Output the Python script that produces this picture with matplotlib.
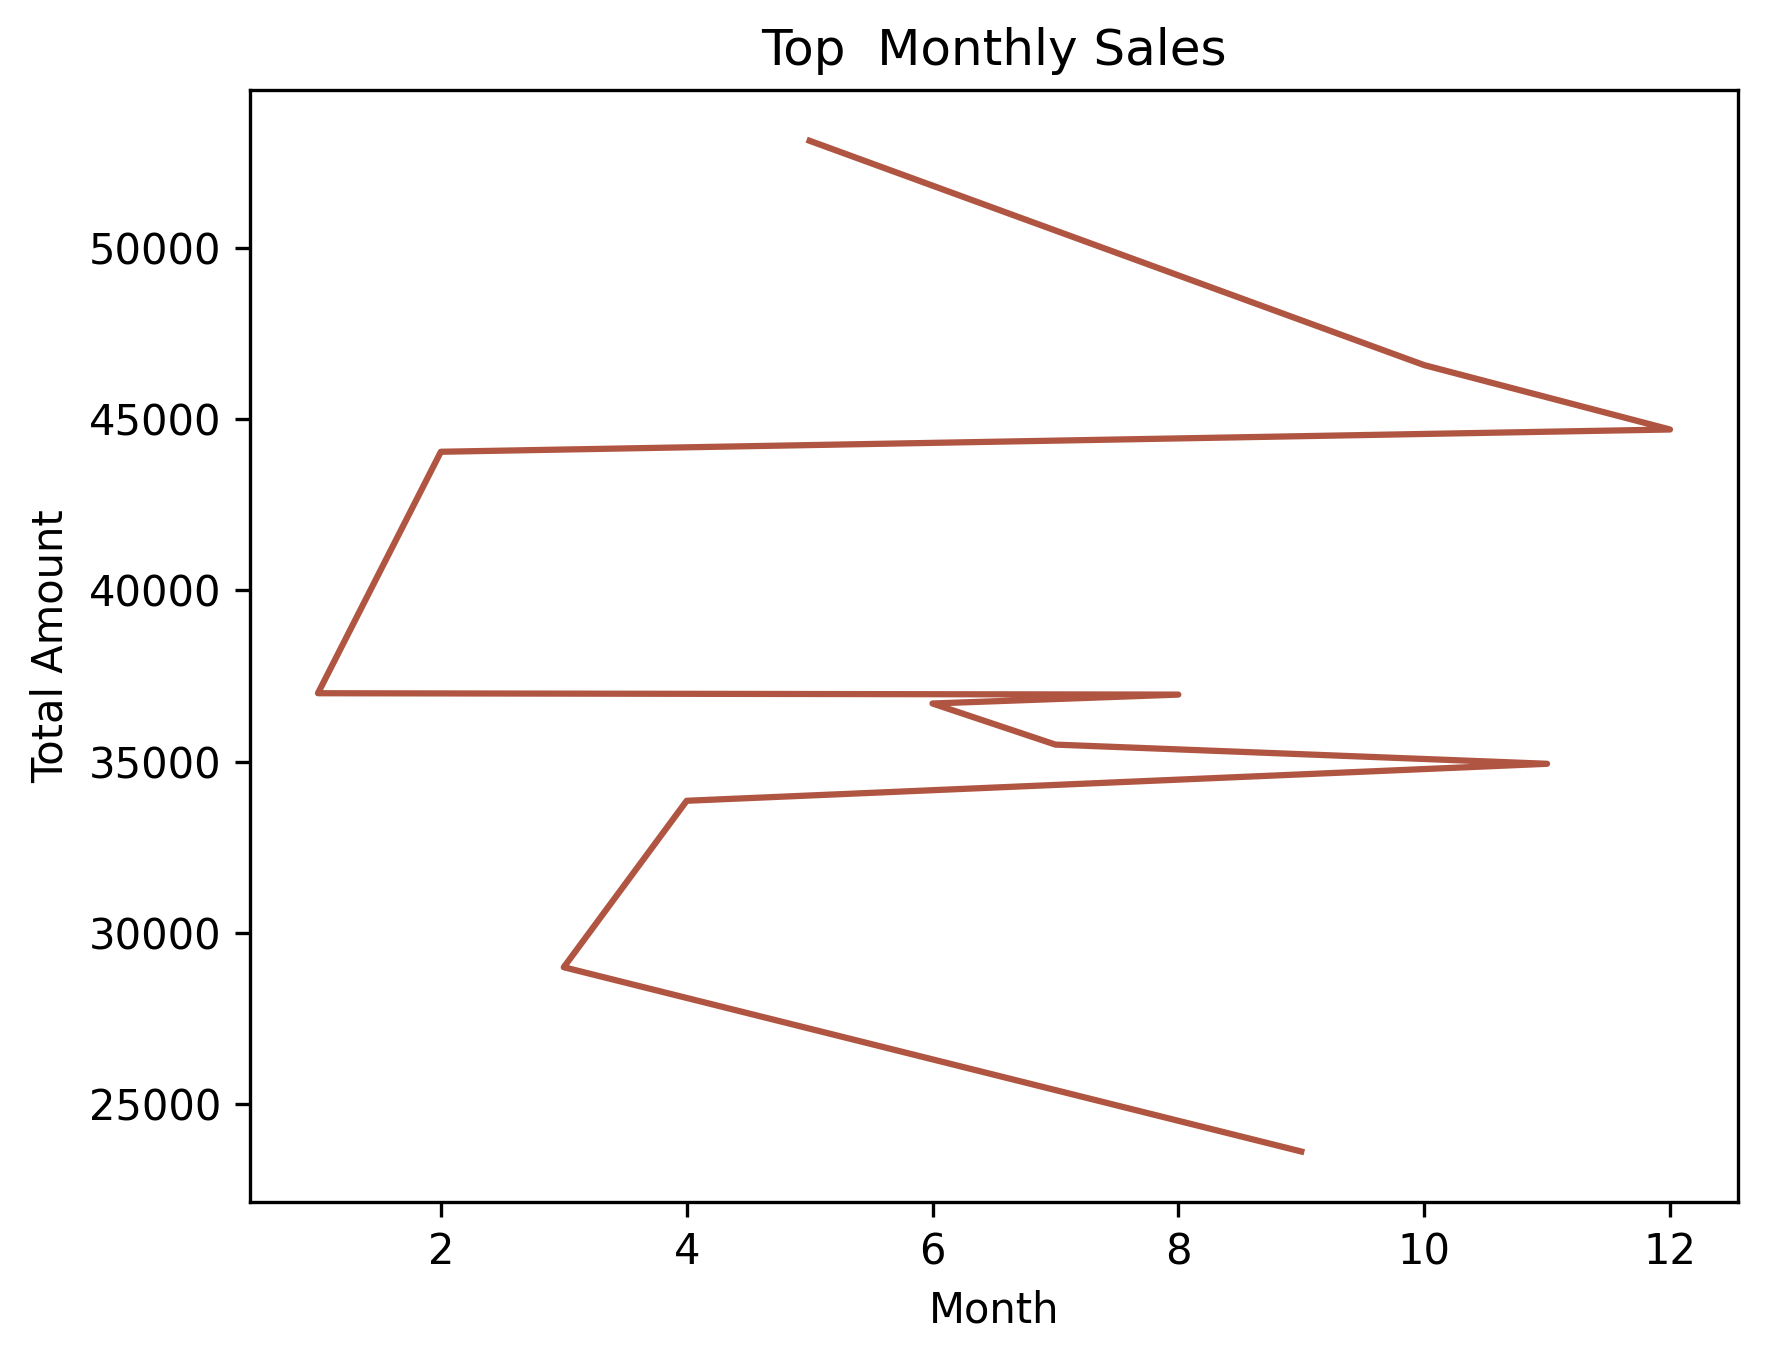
import matplotlib
matplotlib.use("Agg")
import matplotlib.pyplot as plt

# Meses ordenados por monto total (de mayor a menor)
months = [5, 10, 12, 2, 1, 8, 6, 7, 11, 4, 3, 9]
total_amount = [53130, 46580, 44700, 44050, 37000, 36960, 36700, 35500, 34940, 33860, 29000, 23620]

fig = plt.figure(figsize=(1768 / 300, 1361 / 300), dpi=300)
ax = fig.add_axes([0.1416, 0.1168, 0.8412, 0.8169])
ax.plot(months, total_amount, color='#b05542', linewidth=1.5)
ax.set_title("Top  Monthly Sales")
ax.set_xlabel("Month")
ax.set_ylabel("Total Amount")

fig.savefig("out.png", dpi=300)
plt.close(fig)
